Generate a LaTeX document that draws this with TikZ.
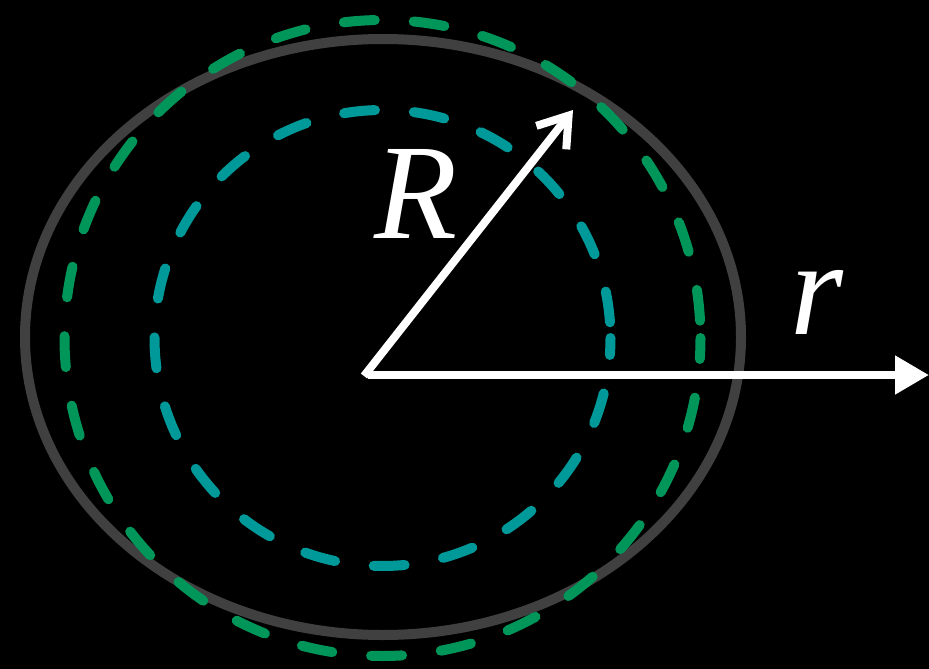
\documentclass[tikz,border=0pt]{standalone}
\usepackage{fontspec}
\setmainfont{Liberation Serif}
\usetikzlibrary{arrows.meta}
\definecolor{ringgray}{HTML}{404040}
\definecolor{ringgreen}{HTML}{00965A}
\definecolor{ringteal}{HTML}{009999}
\begin{document}
\begin{tikzpicture}[x=1pt,y=-1pt,
  ring/.style={line width=10pt},
  dashring/.style={line width=10pt, line cap=round, dash pattern=on 31pt off 39pt},
  vec/.style={draw=white, line width=8pt},
  lbl/.style={text=white, inner sep=0pt, font=\fontsize{136}{136}\selectfont\itshape}]
\fill[black] (0,0) rectangle (929,669);
\useasboundingbox (0,0) rectangle (929,669);
\coordinate (C) at (382.5,338);
\draw[ring, draw=ringgray] (383,337) ellipse [x radius=358, y radius=298];
\draw[dashring, draw=ringgreen, dash phase=10pt] (C) circle [radius=318];
\draw[dashring, draw=ringteal, dash phase=14pt] (C) circle [radius=228];
\coordinate (O) at (364,376);
\coordinate (Rtip) at (573,110);
\coordinate (rtip) at (929,375);
\coordinate (Ostart) at (368,375);
\draw[vec, -{Straight Barb[length=28pt,width=38pt,sharp]}] (O) -- (Rtip);
\draw[vec, -{Triangle[length=34pt,width=37pt]}] (Ostart) -- (rtip);
\node[lbl] (Rl) at (416,194) {R};
\node[lbl] (rl) at (817,302) {r};
\end{tikzpicture}
\end{document}
